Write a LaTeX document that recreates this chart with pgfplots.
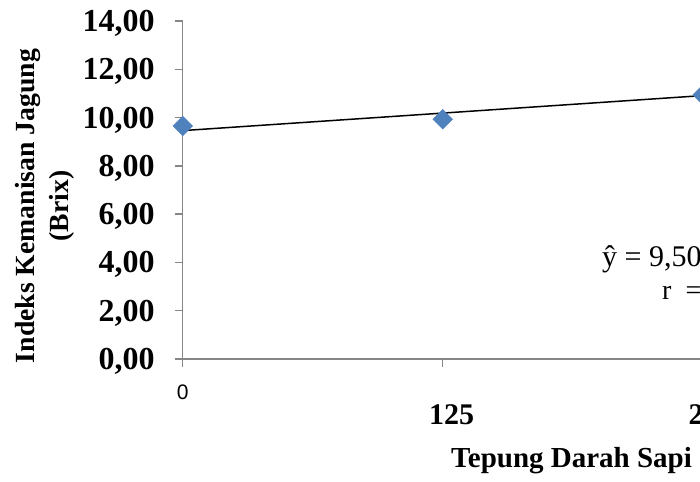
\documentclass[border=0pt]{standalone}
\usepackage{pgfplots}
\pgfplotsset{compat=1.18}
\usepackage{fontspec}
\setmainfont{Liberation Serif}
\newfontfamily\sansf{Liberation Sans}
\definecolor{axisgray}{HTML}{868686}
\definecolor{mkblue}{HTML}{4F81BD}
\begin{document}
\begin{tikzpicture}
\useasboundingbox (0,0) rectangle (700pt,481pt);
\clip (0,0) rectangle (700pt,481pt);
\begin{axis}[
  at={(182.7pt,122pt)}, anchor=south west,
  scale only axis, width=1040pt, height=338pt,
  xmin=0, xmax=500, ymin=0, ymax=14,
  clip=false,
  axis lines=left,
  axis line style={-, draw=axisgray, line width=1.3pt},
  ytick={0,2,4,6,8,10,12,14},
  xtick={0,125,250,375,500},
  xticklabels={,,,,,},
  tick align=outside,
  major tick length=8pt,
  tick style={draw=axisgray, line width=1.3pt},
  yticklabel style={font=\fontsize{32}{32}\selectfont\bfseries, anchor=base east, inner sep=0pt, xshift=-20pt, yshift=-10.5pt},
  /pgf/number format/.cd, fixed, fixed zerofill, precision=2, use comma, assume math mode=true,
]
\addplot[only marks, mark=square*, mark size=7pt, mark options={rotate=45, fill=mkblue, draw=mkblue}] coordinates {(0,9.65) (125,9.93) (250,10.94)};
\addplot[black, line width=1.5pt] coordinates {(0,9.46) (500,12.36)};
\end{axis}
\node[rotate=90, align=center, font=\fontsize{27.7}{34}\selectfont\bfseries] at (45pt,275pt) {Indeks Kemanisan Jagung\\(Brix)};
\node[anchor=base, inner sep=0pt, font=\fontsize{21}{21}\selectfont\sansf] at (182.7pt,81pt) {0};
\node[anchor=base, inner sep=0pt, font=\fontsize{30}{30}\selectfont\bfseries] at (451.5pt,56pt) {125};
\node[anchor=base, inner sep=0pt, font=\fontsize{30}{30}\selectfont\bfseries] at (711pt,56pt) {250};
\node[anchor=base west, inner sep=0pt, font=\fontsize{29}{29}\selectfont\bfseries] at (451pt,13pt) {Tepung Darah Sapi};
\node[anchor=base west, inner sep=0pt, font=\fontsize{30}{30}\selectfont] at (602pt,214pt) {ŷ = 9,50};
\node[anchor=base west, inner sep=0pt, font=\fontsize{28}{28}\selectfont] at (662pt,181pt) {r \ =};
\end{tikzpicture}
\end{document}
